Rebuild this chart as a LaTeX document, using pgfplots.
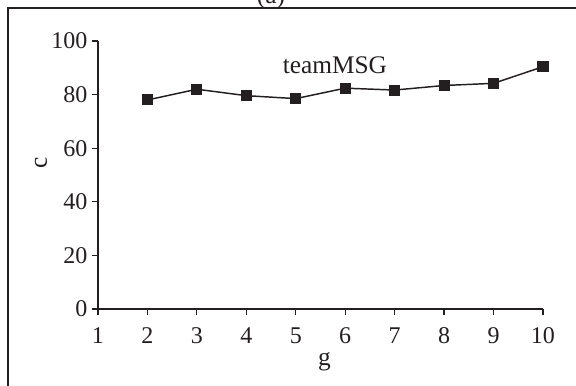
\documentclass[border=0pt]{standalone}
\usepackage{fontspec}
\setmainfont{Liberation Serif}
\usepackage{pgfplots}
\pgfplotsset{compat=1.18}
\definecolor{ink}{HTML}{231F20}
\newcommand{\tickf}{\fontsize{18}{21}\selectfont}
\newcommand{\labf}{\fontsize{19}{22}\selectfont}
\begin{document}
\begin{tikzpicture}[x=0.75pt,y=0.75pt]
\useasboundingbox (-98,-77) rectangle (478,309);
\draw[ink,line width=1pt] (-90,-80) -- (-90,301) -- (480,301);
\node[ink,anchor=base,font=\labf] at (173,305) {(a)};
\begin{axis}[
  at={(0,0)}, anchor=origin,
  scale only axis,
  width=333.75pt, height=201pt,
  xmin=1, xmax=10, ymin=0, ymax=100,
  xtick={1,...,10}, ytick={0,20,...,100},
  axis x line*=bottom, axis y line*=left,
  axis line style={ink,line width=0.9pt},
  tick style={ink,line width=0.9pt},
  tick align=outside, major tick length=4.5pt,
  ticklabel style={ink,font=\tickf},
  /pgf/number format/assume math mode=true,
  xticklabel style={yshift=-6pt},
  xlabel={g}, ylabel={c},
  label style={ink,font=\labf},
  xlabel style={at={(axis description cs:0.5,0)},anchor=center,xshift=3pt,yshift=-39.75pt},
  ylabel style={at={(axis description cs:-0.128,0.545)},anchor=center,rotate=0},
  clip=false,
]
\addplot[ink,line width=1.1pt,mark=square*,mark size=3.6pt,mark options={solid,fill=ink}]
 coordinates {(2,78) (3,82) (4,79.6) (5,78.5) (6,82.4) (7,81.7) (8,83.4) (9,84.2) (10,90.4)};
\node[ink,anchor=base,font=\labf] at (axis cs:5.79,88) {teamMSG};
\end{axis}
\end{tikzpicture}
\end{document}
